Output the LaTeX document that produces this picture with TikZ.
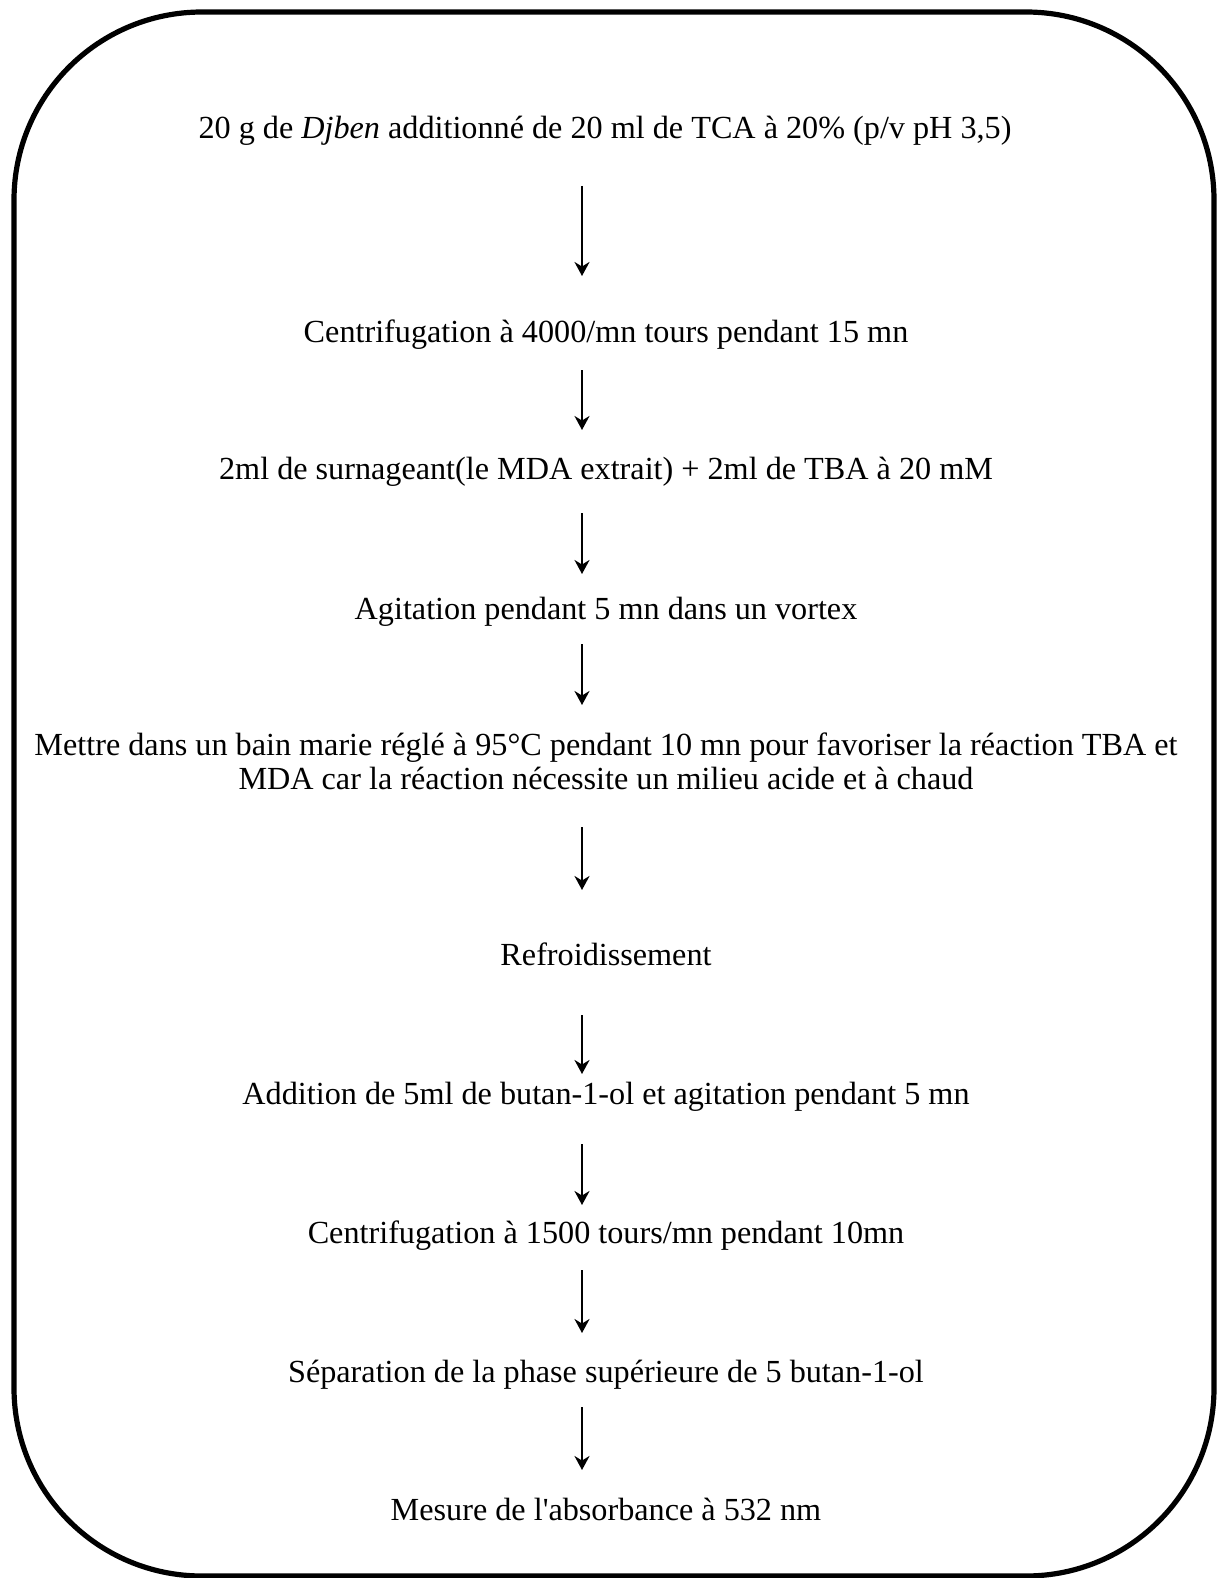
\documentclass[tikz,border=0pt]{standalone}
\usepackage{fontspec}
% plain serif family (keeps the straight apostrophe)
\newfontfamily\stepfont{Liberation Serif}
\usetikzlibrary{arrows.meta}
\begin{document}
\begin{tikzpicture}[x=0.5pt,y=-0.5pt,
  txt/.style={font=\stepfont\fontsize{16.1}{17}\selectfont, align=center, inner sep=0pt, anchor=base},
  arr/.style={line width=1.4pt, -{Stealth[length=7pt,width=7.5pt]}},
  frame/.style={line width=2.6pt, rounded corners=94pt}]
\useasboundingbox (0,0) rectangle (1219,1578);
% outer frame
\draw[frame] (14,12) rectangle (1214,1576);
% steps
\node[txt] (s1) at (605,139) {20 g de \textit{Djben} additionné de 20 ml de TCA à 20\% (p/v pH 3,5)};
\node[txt] (s2) at (606,342) {Centrifugation à 4000/mn tours pendant 15 mn};
\node[txt] (s3) at (606,479) {2ml de surnageant(le MDA extrait) + 2ml de TBA à 20 mM};
\node[txt] (s4) at (606,619) {Agitation pendant 5 mn dans un vortex};
\node[txt] (s5) at (606,789) {Mettre dans un bain marie réglé à 95°C pendant 10 mn pour favoriser la réaction TBA et\\MDA car la réaction nécessite un milieu acide et à chaud};
\node[txt] (s6) at (606,965) {Refroidissement};
\node[txt] (s7) at (606,1104) {Addition de 5ml de butan-1-ol et agitation pendant 5 mn};
\node[txt] (s8) at (606,1243) {Centrifugation à 1500 tours/mn pendant 10mn};
\node[txt] (s9) at (606,1382) {Séparation de la phase supérieure de 5 butan-1-ol};
\node[txt] (s10) at (606,1520) {Mesure de l'absorbance à 532 nm};
% arrow end points
\coordinate (a1s) at (582,186); \coordinate (a1e) at (582,276);
\coordinate (a2s) at (582,370); \coordinate (a2e) at (582,430);
\coordinate (a3s) at (582,513); \coordinate (a3e) at (582,574);
\coordinate (a4s) at (582,644); \coordinate (a4e) at (582,705);
\coordinate (a5s) at (582,827); \coordinate (a5e) at (582,890);
\coordinate (a6s) at (582,1015); \coordinate (a6e) at (582,1074);
\coordinate (a7s) at (582,1144); \coordinate (a7e) at (582,1205);
\coordinate (a8s) at (582,1270); \coordinate (a8e) at (582,1333);
\coordinate (a9s) at (582,1407); \coordinate (a9e) at (582,1470);
\foreach \i in {1,...,9} \draw[arr] (a\i s) -- (a\i e);
\end{tikzpicture}
\end{document}
